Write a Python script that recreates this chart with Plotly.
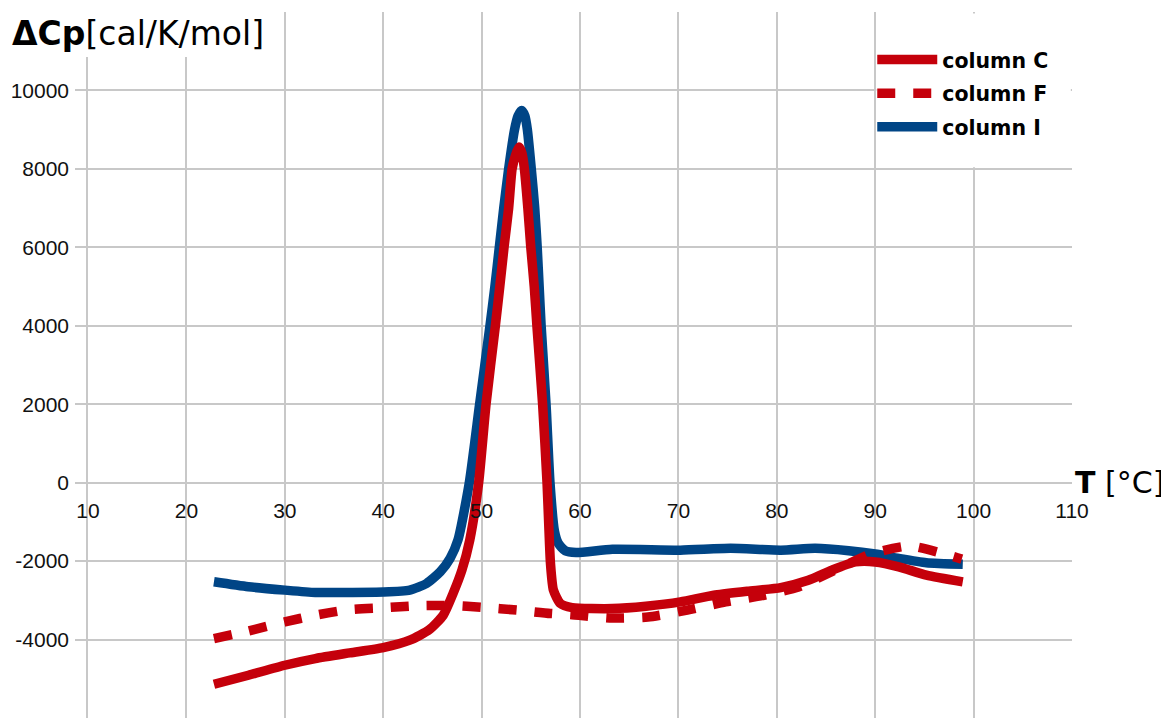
import plotly.graph_objects as go

# ---- data ----
t_c = [22.8, 26.3, 30.0, 33.1, 36.6, 40.0, 42.7, 44.7, 46.1, 47.1, 48.0, 48.8, 49.7,
       50.45, 51.4, 51.85, 52.28, 52.75, 53.1, 53.45, 53.8, 54.1, 54.35, 54.7, 55.0,
       55.35, 55.62, 56.2, 56.65, 56.85, 57.0, 57.3, 58.0, 59.2, 63.3, 66.7, 70.2,
       73.6, 77.0, 80.4, 83.2, 85.6, 88.0, 90.0, 92.4, 95.2, 98.9]
cp_c = [-5140, -4910, -4655, -4485, -4340, -4205, -4017, -3745, -3380, -2825, -2230, -1460, 0,
        2000, 4000, 5000, 6000, 7000, 8000, 8350, 8555, 8400, 8000, 7000, 6000,
        5000, 4000, 2000, 0, -1230, -2060, -2740, -3080, -3185, -3210, -3150, -3040,
        -2870, -2770, -2675, -2490, -2230, -2020, -2020, -2145, -2360, -2530]

t_f = [22.8, 26.3, 30.0, 33.1, 36.6, 40.0, 43.4, 46.8, 50.2, 53.6, 57.0, 59.0, 63.0,
       66.9, 70.9, 74.8, 78.7, 82.2, 85.9, 89.7, 93.5, 97.4, 98.8]
cp_f = [-3975, -3780, -3550, -3380, -3235, -3190, -3140, -3130, -3180, -3250, -3335, -3360, -3450,
        -3425, -3250, -3040, -2870, -2660, -2230, -1805, -1615, -1845, -1950]

t_i = [22.8, 26.3, 30.0, 33.1, 36.6, 40.0, 42.7, 44.4, 45.8, 46.8, 47.6, 48.75, 49.8,
       50.85, 51.35, 51.8, 52.25, 52.75, 53.35, 53.7, 54.07, 54.4, 54.65, 55.05, 55.4,
       55.65, 55.85, 56.05, 56.55, 56.95, 57.4, 57.8, 58.5, 59.6, 63.3, 70.2, 75.3, 80.4,
       83.9, 87.3, 90.0, 92.4, 95.2, 98.9]
cp_i = [-2528, -2655, -2740, -2800, -2800, -2790, -2740, -2570, -2272, -1930, -1460, 0, 2000,
        4000, 5000, 6000, 7000, 8000, 9000, 9350, 9490, 9350, 9000, 8000, 7000,
        6000, 5000, 4000, 2000, 0, -1230, -1550, -1735, -1780, -1700, -1720, -1675, -1720,
        -1675, -1735, -1820, -1930, -2040, -2080]

series_names = ["column C", "column F", "column I"]
x_ticks = [10, 20, 30, 40, 50, 60, 70, 80, 90, 100, 110]
y_ticks = [-4000, -2000, 0, 2000, 4000, 6000, 8000, 10000]

RED = "#c5000b"
BLUE = "#004586"
GRID = "#c8c8c8"

fig = go.Figure()
# blue drawn first so the red curves lie on top of it
fig.add_trace(go.Scatter(x=t_i, y=cp_i, mode="lines", name="<b>%s</b>" % series_names[2],
                         line=dict(color=BLUE, width=9.5, shape="spline", smoothing=0.6),
                         legendgroup="i", legendrank=3))
fig.add_trace(go.Scatter(x=t_c, y=cp_c, mode="lines", name="<b>%s</b>" % series_names[0],
                         line=dict(color=RED, width=9.5, shape="spline", smoothing=0.6),
                         legendgroup="c", legendrank=1))
fig.add_trace(go.Scatter(x=t_f, y=cp_f, mode="lines", name="<b>%s</b>" % series_names[1],
                         line=dict(color=RED, width=9.5, dash="18px,18px", shape="spline", smoothing=0.6),
                         legendgroup="f", legendrank=2))

fig.update_layout(
    width=1161, height=710,
    margin=dict(l=80, r=97, t=4, b=0),
    plot_bgcolor="white", paper_bgcolor="white",
    showlegend=True,
    legend=dict(x=0.797, y=0.9607, xanchor="left", yanchor="top",
                bgcolor="rgba(0,0,0,0)", tracegroupgap=4, itemwidth=60,
                font=dict(family="DejaVu Sans", size=20.5, color="#000")),
    xaxis=dict(range=[10, 110], tickvals=x_ticks, ticktext=[str(v) for v in x_ticks],
               anchor="free", position=1/3, showgrid=True, gridcolor=GRID, gridwidth=1.5,
               zeroline=False, showline=False, ticks="", ticklabelstandoff=13,
               tickfont=dict(family="Liberation Sans", size=21, color="#111"),
               automargin=False),
    yaxis=dict(range=[-6000, 12000], tickvals=y_ticks, ticktext=[str(v) for v in y_ticks],
               showgrid=True, gridcolor=GRID, gridwidth=1.5,
               minor=dict(tickvals=[12000], showgrid=True, gridcolor=GRID, gridwidth=1.5, ticks=""),
               zeroline=True, zerolinecolor=GRID, zerolinewidth=1.5,
               showline=True, linecolor=GRID, linewidth=1.5,
               ticks="outside", ticklen=11, tickcolor=GRID, tickwidth=1.5,
               ticklabelstandoff=2,
               tickfont=dict(family="Liberation Sans", size=21, color="#111"),
               automargin=False),
)

# white box behind the legend (cell between gridlines) and behind the title
fig.add_shape(type="rect", xref="x", yref="y", x0=90.12, x1=109.88, y0=8040, y1=11960,
              fillcolor="white", line=dict(width=0), layer="above")
fig.add_shape(type="rect", xref="paper", yref="paper", x0=-0.091, x1=0.1865, y0=0.9363, y1=1.02,
              fillcolor="white", line=dict(width=0), layer="above")

fig.add_annotation(xref="paper", yref="paper", x=-0.079, y=0.970, xanchor="left", yanchor="middle",
                   text="<b>ΔCp</b>[cal/K/mol]", showarrow=False,
                   font=dict(family="DejaVu Sans", size=33, color="#000"))
fig.add_annotation(xref="paper", yref="paper", x=1.001, y=1/3, xanchor="left", yanchor="middle",
                   text="<b>T</b> [°C]", showarrow=False,
                   font=dict(family="DejaVu Sans", size=30, color="#000"))

fig.write_html("out.html")
